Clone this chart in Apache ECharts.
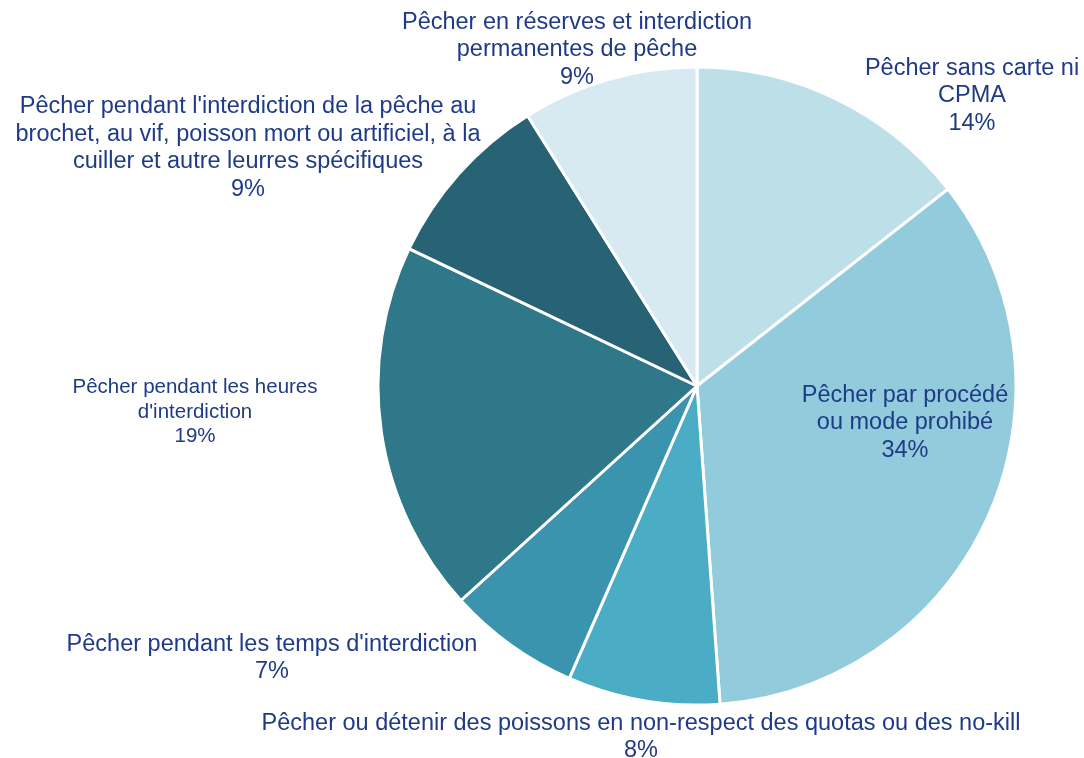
<!DOCTYPE html>
<html>
<head>
<meta charset="utf-8">
<script src="https://cdn.jsdelivr.net/npm/echarts@6/dist/echarts.min.js"></script>
<style>
  html, body { margin: 0; padding: 0; background: #fff; }
  #chart { width: 1084px; height: 758px; }
</style>
</head>
<body>
<div id="chart"></div>
<script>
// categories, clockwise from 12 o'clock
const categories = [
  'Pêcher sans carte ni\nCPMA',
  'Pêcher par procédé\nou mode prohibé',
  'Pêcher ou détenir des poissons en non-respect des quotas ou des no-kill',
  "Pêcher pendant les temps d'interdiction",
  "Pêcher pendant les heures\nd'interdiction",
  "Pêcher pendant l'interdiction de la pêche au\nbrochet, au vif, poisson mort ou artificiel, à la\ncuiller et autre leurres spécifiques",
  'Pêcher en réserves et interdiction\npermanentes de pêche'
];
// shares (%)
const shares = [14.4, 34.4, 7.7, 6.7, 18.8, 9.0, 8.9];
const colors = ['#bde0e8', '#92cbdc', '#4bacc6', '#3a94ad', '#2e788a', '#276374', '#d7eaf1'];

// label anchor points (centre of each text block)
const labelAnchors = [
  [972, 96], [905, 423], [641, 737], [272, 658],
  [195, 412], [248, 148], [577, 50]
];

const chart = echarts.init(document.getElementById('chart'));

chart.setOption({
  backgroundColor: '#fff',
  animation: false,
  series: [{
    type: 'pie',
    center: [697, 386],
    radius: 319,
    startAngle: 90,
    clockwise: true,
    itemStyle: { borderColor: '#fff', borderWidth: 3 },
    label: {
      show: true,
      position: 'inside',
      color: '#1f3a87',
      fontFamily: 'Liberation Sans, Arial, sans-serif',
      fontSize: 23.5,
      lineHeight: 27.5,
      align: 'center',
      formatter: (p) => p.name + '\n' + Math.round(p.percent) + '%'
    },
    labelLine: { show: false },
    emphasis: { disabled: true },
    labelLayout: (p) => ({
      x: labelAnchors[p.dataIndex][0],
      y: labelAnchors[p.dataIndex][1],
      align: 'center',
      verticalAlign: 'middle'
    }),
    data: categories.map((name, i) => ({
      name: name,
      value: shares[i],
      itemStyle: { color: colors[i] },
      label: i === 4 ? { fontSize: 20.5, lineHeight: 24.5 } : {}
    }))
  }]
});
</script>
</body>
</html>
